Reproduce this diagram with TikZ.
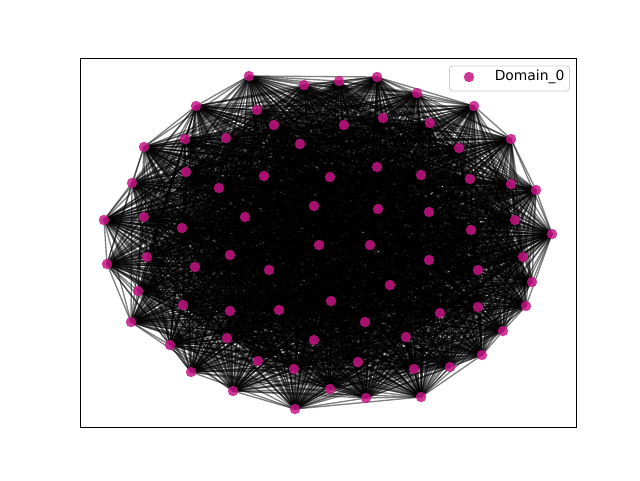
\documentclass[tikz,border=0pt]{standalone}
\usepackage{fontspec}
\setmainfont{DejaVu Sans}
\usetikzlibrary{backgrounds}
\definecolor{mvr}{HTML}{C71585}
\definecolor{legframe}{HTML}{CCCCCC}
\tikzset{
  dot/.style={circle, fill=mvr, fill opacity=0.85, draw=none, inner sep=0pt, minimum size=7.8pt},
  edge/.style={draw=black, draw opacity=0.5, line width=1pt},
  axframe/.style={draw=black, line width=0.6pt},
  legbox/.style={draw=legframe, fill=white, fill opacity=0.8, line width=0.6pt, rounded corners=2.2pt},
  legtext/.style={anchor=west, inner sep=0pt, font=\fontsize{10.4pt}{12pt}\selectfont}
}
\begin{document}
\begin{tikzpicture}[x=0.75pt, y=-0.75pt]
\useasboundingbox (0,0) rectangle (640,480);
\foreach \px/\py [count=\k] in {
249/76, 304/85, 339/81, 377/77, 417/93, 474/106, 196/106, 257/110, 274/125, 344/125,
383/118, 430/123, 185/139, 226/138, 300/144, 511/139, 459/148, 144/147, 186/172, 264/176,
330/177, 377/167, 421/175, 470/179, 511/184, 536/190, 132/183, 219/188, 314/206, 378/209,
429/212, 515/220, 104/220, 144/217, 245/217, 182/228, 471/230, 552/234, 319/245, 370/245,
107/264, 147/257, 230/255, 195/267, 269/270, 429/260, 478/270, 523/257, 532/282, 138/291,
390/285, 183/305, 230/311, 279/310, 331/301, 478/307, 526/306, 440/313, 131/322, 365/322,
503/331, 227/338, 314/340, 406/337, 170/345, 482/355, 258/361, 358/362, 414/369, 450/367,
294/369, 191/372, 233/391, 330/389, 366/398, 421/397, 295/409}
  \node[dot] (v\k) at (\px,\py) {};
\begin{pgfonlayer}{background}
\foreach \i in {1,...,76} {
  \pgfmathtruncatemacro\s{\i+1}
  \foreach \j in {\s,...,77} {
    \pgfmathtruncatemacro\h{mod(mod(\i*\j,101)*13+\i*37+\j*61,101)}
    \ifnum\h<85 \draw[edge] (v\i.center) -- (v\j.center);\fi
  }
}
\end{pgfonlayer}
\draw[axframe] (80,58) rectangle (576,427);
\node[legbox, minimum width=90pt, minimum height=18.75pt, anchor=north west, inner sep=0pt] (leg) at (449,65.5) {};
\node[dot] (legdot) at (469,77) {};
\node[legtext] (legtxt) at (494.5,77) {Domain\_0};
\end{tikzpicture}
\end{document}
